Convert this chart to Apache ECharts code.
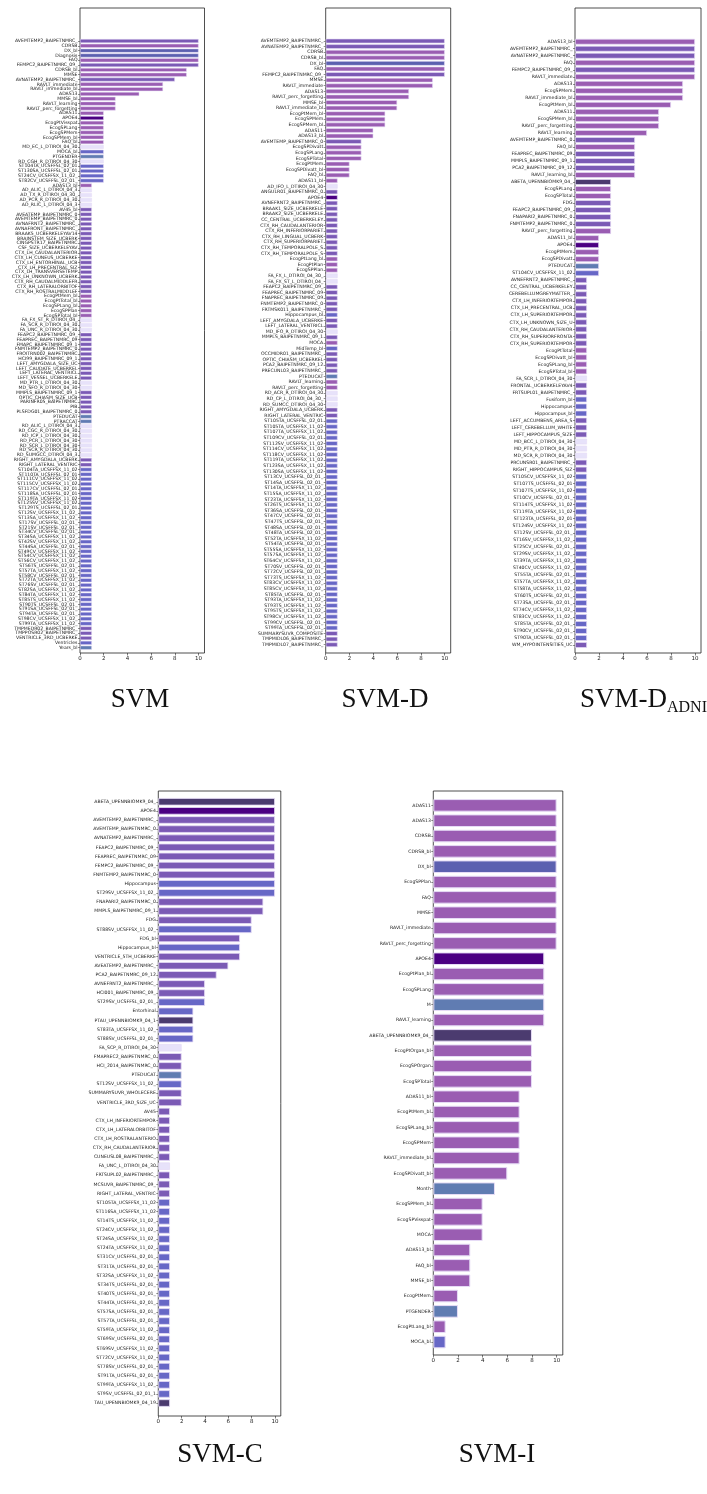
<!DOCTYPE html>
<html><head><meta charset="utf-8">
<script src="https://cdn.jsdelivr.net/npm/echarts@6/dist/echarts.min.js"></script>
<style>html,body{margin:0;padding:0;background:#fff}#c{width:707px;height:1494px}</style>
</head><body><div id="c"></div>
<script>
// ---------------- DATA ----------------
const xTicks = [0, 2, 4, 6, 8, 10];

const svmNames = ["AVEMTEMP2_BAIPETNMRC_","CDRSB","DX_bl","Diagnosis","FAQ","FEMPC2_BAIPETNMRC_09_","CDRSB_bl","MMSE","AVNATEMP2_BAIPETNMRC_","RAVLT_immediate","RAVLT_immediate_bl","ADAS13","MMSE_bl","RAVLT_learning","RAVLT_perc_forgetting",
"ADAS11","APOE4","EcogPtVisspat","EcogSPLang","EcogSPMem","EcogSPMem_bl","FAQ_bl","MD_EC_L_DTIROI_04_30","MOCA_bl","PTGENDER","RD_CGH_R_DTIROI_04_30","ST104TA_UCSFFSL_02_01","ST130SA_UCSFFSL_02_01","ST24CV_UCSFFSX_11_02_","ST82CV_UCSFFSL_02_01_",
"ADAS13_bl","AD_ALIC_L_DTIROI_04_3","AD_TX_R_DTIROI_04_30_","AD_PCR_R_DTIROI_04_30","AD_RLIC_L_DTIROI_04_3","AV45_bl","AVEATEMP_BAIPETNMRC_0","AVEMTEMP_BAIPETNMRC_0","AVNAFRNT2_BAIPETNMRC_","AVNAFRONT_BAIPETNMRC_",
"BRAAK5_UCBERKELEYAV14","BRAINSTEM_SIZE_UCBERK","CINGPSTR17_BAIPETNMRC","CSF_SIZE_UCBERKELEYAV","CTX_LH_CAUDALANTERIOR","CTX_LH_CUNEUS_UCBERKE","CTX_LH_ENTORHINAL_UCB","CTX_LH_PRECENTRAL_SIZ","CTX_LH_TRANSVERSETEMP","CTX_LH_UNKNOWN_UCBERK",
"CTX_RH_CAUDALMIDDLEFR","CTX_RH_LATERALORBITOF","CTX_RH_ROSTRALMIDDLEF","EcogPtMem_bl","EcogPtTotal_bl","EcogSPLang_bl","EcogSPPlan","EcogSPTotal_bl","FA_FX_ST_R_DTIROI_04_","FA_SCR_R_DTIROI_04_30",
"FA_UNC_R_DTIROI_04_30","FEAPC2_BAIPETNMRC_09_","FEAPREC_BAIPETNMRC_09","FMAPC_BAIPETNMRC_09_1","FNMTEMP2_BAIPETNMRC_0","FROITRN002_BAIPETNMRC","HCI99_BAIPETNMRC_09_1","LEFT_AMYGDALA_SIZE_UC","LEFT_CAUDATE_UCBERKEL","LEFT_LATERAL_VENTRICL",
"LEFT_VESSEL_UCBERKELE","MD_PTR_L_DTIROI_04_30","MD_SFO_R_DTIROI_04_30","MMPLS_BAIPETNMRC_09_1","OPTIC_CHIASM_SIZE_UCB","PARINFR05_BAIPETNMRC","PIB","PLSFDG01_BAIPETNMRC_0","PTEDUCAT","PTRACCAT",
"RD_ALIC_L_DTIROI_04_3","RD_CGC_R_DTIROI_04_30","RD_ICP_L_DTIROI_04_30","RD_PCR_L_DTIROI_04_30","RD_SCR_L_DTIROI_04_30","RD_SCR_R_DTIROI_04_30","RD_SUMGCC_DTIROI_04_3","RIGHT_AMYGDALA_UCBERK","RIGHT_LATERAL_VENTRIC","ST104TA_UCSFFSX_11_02",
"ST110TA_UCSFFSL_02_01","ST111CV_UCSFFSX_11_02","ST115CV_UCSFFSX_11_02","ST117CV_UCSFFSL_02_01","ST118SA_UCSFFSL_02_01","ST119TA_UCSFFSX_11_02","ST125SV_UCSFFSX_11_02","ST129TS_UCSFFSL_02_01","ST12SV_UCSFFSX_11_02_","ST13SA_UCSFFSX_11_02_",
"ST17SV_UCSFFSL_02_01_","ST21SV_UCSFFSL_02_01_","ST34CV_UCSFFSL_02_01_","ST34SA_UCSFFSX_11_02_","ST42SV_UCSFFSX_11_02_","ST44SA_UCSFFSL_02_01_","ST49CV_UCSFFSX_11_02_","ST54CV_UCSFFSX_11_02_","ST56CV_UCSFFSX_11_02_","ST56TS_UCSFFSL_02_01_",
"ST57TA_UCSFFSX_11_02_","ST58CV_UCSFFSL_02_01_","ST72TA_UCSFFSX_11_02_","ST76SV_UCSFFSL_02_01_","ST82SA_UCSFFSX_11_02_","ST84TA_UCSFFSX_11_02_","ST85TS_UCSFFSX_11_02_","ST90TS_UCSFFSL_02_01_","ST91SA_UCSFFSL_02_01_","ST94TA_UCSFFSL_02_01_",
"ST98CV_UCSFFSX_11_02_","ST99TA_UCSFFSX_11_02_","TMPMEDR02_BAIPETNMRC_","TMPPOSR02_BAIPETNMRC_","VENTRICLE_3RD_UCBERKE","Ventricles","Years_bl"];
const svmValues = [10,10,10,10,10,10,9,9,8,7,7,5,3,3,3,
2,2,2,2,2,2,2,2,2,2,2,2,2,2,2,
1,1,1,1,1,1,1,1,1,1, 1,1,1,1,1,1,1,1,1,1, 1,1,1,1,1,1,1,1,1,1, 1,1,1,1,1,1,1,1,1,1,
1,1,1,1,1,1,1,1,1,1, 1,1,1,1,1,1,1,1,1,1, 1,1,1,1,1,1,1,1,1,1, 1,1,1,1,1,1,1,1,1,1,
1,1,1,1,1,1,1,1,1,1, 1,1,1,1,1,1,1];

const svmDNames = ["AVEMTEMP2_BAIPETNMRC_","AVNATEMP2_BAIPETNMRC_","CDRSB","CDRSB_bl","DX_bl","FAQ","FEMPC2_BAIPETNMRC_09_","MMSE","RAVLT_immediate","ADAS13",
"RAVLT_perc_forgetting","MMSE_bl","RAVLT_immediate_bl","EcogPtMem_bl","EcogSPMem","EcogSPMem_bl","ADAS11","ADAS13_bl","AVEMTEMP_BAIPETNMRC_0","EcogSPDivatt",
"EcogSPLang","EcogSPTotal","EcogPtMem","EcogSPDivatt_bl","FAQ_bl","ADAS11_bl","AD_IFO_L_DTIROI_04_30","ANGULR01_BAIPETNMRC_0","APOE4","AVNEFRNT2_BAIPETNMRC_",
"BRAAK1_SIZE_UCBERKELE","BRAAK2_SIZE_UCBERKELE","CC_CENTRAL_UCBERKELEY","CTX_RH_CAUDALANTERIOR","CTX_RH_INFERIORPARIET","CTX_RH_LINGUAL_UCBERK","CTX_RH_SUPERIORPARIET","CTX_RH_TEMPORALPOLE_S","CTX_RH_TEMPORALPOLE_S","EcogPtLang_bl",
"EcogPtPlan","EcogSPPlan","FA_FX_L_DTIROI_04_30_","FA_FX_ST_L_DTIROI_04_","FEAPC2_BAIPETNMRC_09_","FEAPREC_BAIPETNMRC_09","FNAPREC_BAIPETNMRC_09","FNMTEMP2_BAIPETNMRC_0","FRTMSK011_BAIPETNMRC_","Hippocampus_bl",
"LEFT_AMYGDALA_UCBERKE","LEFT_LATERAL_VENTRICL","MD_IFO_R_DTIROI_04_30","MMPLS_BAIPETNMRC_09_1","MOCA","MidTemp_bl","OCCMIDR01_BAIPETNMRC_","OPTIC_CHIASM_UCBERKEL","PCA2_BAIPETNMRC_09_12","PRECUNL03_BAIPETNMRC_",
"PTEDUCAT","RAVLT_learning","RAVLT_perc_forgetting","RD_ACR_R_DTIROI_04_30","RD_CP_L_DTIROI_04_30_","RD_SUMCC_DTIROI_04_30","RIGHT_AMYGDALA_UCBERK","RIGHT_LATERAL_VENTRIC","ST105TA_UCSFFSL_02_01","ST105TA_UCSFFSX_11_02",
"ST107TA_UCSFFSX_11_02","ST109CV_UCSFFSL_02_01","ST112SV_UCSFFSX_11_02","ST114CV_UCSFFSX_11_02","ST118CV_UCSFFSX_11_02","ST119TA_UCSFFSX_11_02","ST123SA_UCSFFSX_11_02","ST130SA_UCSFFSX_11_02","ST13CV_UCSFFSL_02_01_","ST14SA_UCSFFSL_02_01_",
"ST14TA_UCSFFSX_11_02_","ST15SA_UCSFFSX_11_02_","ST23TA_UCSFFSX_11_02_","ST26TS_UCSFFSX_11_02_","ST36SA_UCSFFSL_02_01_","ST47CV_UCSFFSL_02_01_","ST47TS_UCSFFSL_02_01_","ST48SA_UCSFFSL_02_01_","ST48TA_UCSFFSL_02_01_","ST52TA_UCSFFSX_11_02_",
"ST54TA_UCSFFSL_02_01_","ST55SA_UCSFFSX_11_02_","ST57SA_UCSFFSX_11_02_","ST64CV_UCSFFSX_11_02_","ST70SV_UCSFFSL_02_01_","ST72CV_UCSFFSL_02_01_","ST73TS_UCSFFSX_11_02_","ST83CV_UCSFFSX_11_02_","ST85CV_UCSFFSX_11_02_","ST85TA_UCSFFSL_02_01_",
"ST93TA_UCSFFSX_11_02_","ST93TS_UCSFFSX_11_02_","ST95TS_UCSFFSX_11_02_","ST98CV_UCSFFSX_11_02_","ST99CV_UCSFFSL_02_01_","ST99TA_UCSFFSL_02_01_","SUMMARYSUVR_COMPOSITE","TMPMIDL06_BAIPETNMRC_","TMPMIDL07_BAIPETNMRC_"];
const svmDValues = [10,10,10,10,10,10,10,9,9,7,
7,6,6,5,5,5,4,4,3,3,
3,3,2,2,2,1,1,1,1,1,
1,1,1,1,1,1,1,1,1,1, 1,1,1,1,1,1,1,1,1,1, 1,1,1,1,1,1,1,1,1,1, 1,1,1,1,1,1,1,1,1,1,
1,1,1,1,1,1,1,1,1,1, 1,1,1,1,1,1,1,1,1,1, 1,1,1,1,1,1,1,1,1,1, 1,1,1,1,1,1,1,1,1];

const svmDadniNames = ["ADAS13_bl","AVEMTEMP2_BAIPETNMRC_","AVNATEMP2_BAIPETNMRC_","FAQ","FEMPC2_BAIPETNMRC_09_","RAVLT_immediate","ADAS13","EcogSPMem","RAVLT_immediate_bl","EcogPtMem_bl",
"ADAS11","EcogSPMem_bl","RAVLT_perc_forgetting","RAVLT_learning","AVEMTEMP_BAIPETNMRC_0","FAQ_bl","FEAPREC_BAIPETNMRC_09","MMPLS_BAIPETNMRC_09_1","PCA2_BAIPETNMRC_09_12","RAVLT_learning_bl",
"ABETA_UPENNBIOMK9_04_","EcogSPLang","EcogSPTotal","FDG","FEAPC2_BAIPETNMRC_09_","FNAPARI2_BAIPETNMRC_0","FNMTEMP2_BAIPETNMRC_0","RAVLT_perc_forgetting","ADAS11_bl","APOE4",
"EcogPtMem","EcogSPDivatt","PTEDUCAT","ST104CV_UCSFFSX_11_02","AVNEFRNT2_BAIPETNMRC_","CC_CENTRAL_UCBERKELEY","CEREBELLUMGREYMATTER_","CTX_LH_INFERIORTEMPOR","CTX_LH_PRECENTRAL_UCB","CTX_LH_SUPERIORTEMPOR",
"CTX_LH_UNKNOWN_SIZE_U","CTX_RH_CAUDALANTERIOR","CTX_RH_SUPERIORFRONTA","CTX_RH_SUPERIORTEMPOR","EcogPtTotal","EcogSPDivatt_bl","EcogSPLang_bl","EcogSPTotal_bl","FA_SCR_L_DTIROI_04_30","FRONTAL_UCBERKELEYAV4",
"FRTSUPL01_BAIPETNMRC_","Fusiform_bl","Hippocampus","Hippocampus_bl","LEFT_ACCUMBENS_AREA_S","LEFT_CEREBELLUM_WHITE","LEFT_HIPPOCAMPUS_SIZE","MD_BCC_L_DTIROI_04_30","MD_PTR_R_DTIROI_04_30","MD_SCR_R_DTIROI_04_30",
"PRCUNSR01_BAIPETNMRC_","RIGHT_HIPPOCAMPUS_SIZ","ST105CV_UCSFFSX_11_02","ST107TS_UCSFFSL_02_01","ST107TS_UCSFFSX_11_02","ST10CV_UCSFFSL_02_01_","ST114TS_UCSFFSX_11_02","ST119TA_UCSFFSX_11_02","ST123TA_UCSFFSL_02_01","ST124SV_UCSFFSX_11_02",
"ST12SV_UCSFFSL_02_01_","ST16SV_UCSFFSX_11_02_","ST25CV_UCSFFSL_02_01_","ST29SV_UCSFFSX_11_02_","ST39TA_UCSFFSX_11_02_","ST40CV_UCSFFSX_11_02_","ST55TA_UCSFFSL_02_01_","ST57TA_UCSFFSX_11_02_","ST58TA_UCSFFSX_11_02_","ST60TS_UCSFFSL_02_01_",
"ST73SA_UCSFFSL_02_01_","ST74CV_UCSFFSX_11_02_","ST83CV_UCSFFSX_11_02_","ST85TA_UCSFFSL_02_01_","ST90CV_UCSFFSL_02_01_","ST90TA_UCSFFSL_02_01_","WM_HYPOINTENSITIES_UC"];
const svmDadniValues = [10,10,10,10,10,10,9,9,9,8,
7,7,7,6,5,5,5,5,5,5,
3,3,3,3,3,3,3,3,2,2,
2,2,2,2,1,1,1,1,1,1, 1,1,1,1,1,1,1,1,1,1, 1,1,1,1,1,1,1,1,1,1, 1,1,1,1,1,1,1,1,1,1,
1,1,1,1,1,1,1,1,1,1, 1,1,1,1,1,1,1];

const svmCNames = ["ABETA_UPENNBIOMK9_04_","APOE4","AVEMTEMP2_BAIPETNMRC_","AVEMTEMP_BAIPETNMRC_0","AVNATEMP2_BAIPETNMRC_","FEAPC2_BAIPETNMRC_09_","FEAPREC_BAIPETNMRC_09","FEMPC2_BAIPETNMRC_09_","FNMTEMP2_BAIPETNMRC_0","Hippocampus",
"ST29SV_UCSFFSX_11_02_","FNAPARI2_BAIPETNMRC_0","MMPLS_BAIPETNMRC_09_1","FDG","ST88SV_UCSFFSX_11_02_","FDG_bl","Hippocampus_bl","VENTRICLE_5TH_UCBERKE","AVEATEMP2_BAIPETNMRC_","PCA2_BAIPETNMRC_09_12",
"AVNEFRNT2_BAIPETNMRC_","HCI001_BAIPETNMRC_09_","ST29SV_UCSFFSL_02_01_","Entorhinal","PTAU_UPENNBIOMK9_04_1","ST83TA_UCSFFSX_11_02_","ST88SV_UCSFFSL_02_01_","FA_SCP_R_DTIROI_04_30","FMAPREC2_BAIPETNMRC_0","HCI_2014_BAIPETNMRC_0",
"PTEDUCAT","ST12SV_UCSFFSX_11_02_","SUMMARYSUVR_WHOLECERE","VENTRICLE_3RD_SIZE_UC","AV45","CTX_LH_INFERIORTEMPOR","CTX_LH_LATERALORBITOF","CTX_LH_ROSTRALANTERIO","CTX_RH_CAUDALANTERIOR","CUNEUSL08_BAIPETNMRC_",
"FA_UNC_L_DTIROI_04_30","FRTSUPL02_BAIPETNMRC_","MCSUVR_BAIPETNMRC_09_","RIGHT_LATERAL_VENTRIC","ST105TA_UCSFFSX_11_02","ST116SA_UCSFFSX_11_02","ST14TS_UCSFFSX_11_02_","ST24CV_UCSFFSX_11_02_","ST24SA_UCSFFSX_11_02_","ST24TA_UCSFFSX_11_02_",
"ST31CV_UCSFFSL_02_01_","ST31TA_UCSFFSL_02_01_","ST32SA_UCSFFSX_11_02_","ST34TS_UCSFFSL_02_01_","ST40TS_UCSFFSL_02_01_","ST44TA_UCSFFSL_02_01_","ST57SA_UCSFFSL_02_01_","ST57TA_UCSFFSL_02_01_","ST59TA_UCSFFSX_11_02_","ST69SV_UCSFFSL_02_01_",
"ST69SV_UCSFFSX_11_02_","ST72CV_UCSFFSX_11_02_","ST78SV_UCSFFSL_02_01_","ST91TA_UCSFFSL_02_01_","ST99TA_UCSFFSX_11_02_","ST9SV_UCSFFSL_02_01_1","TAU_UPENNBIOMK9_04_19"];
const svmCValues = [10,10,10,10,10,10,10,10,10,10,
10,9,9,8,8,7,7,7,6,5,
4,4,4,3,3,3,3,2,2,2,
2,2,2,2,1,1,1,1,1,1, 1,1,1,1,1,1,1,1,1,1, 1,1,1,1,1,1,1,1,1,1, 1,1,1,1,1,1,1];

const svmINames = ["ADAS11","ADAS13","CDRSB","CDRSB_bl","DX_bl","EcogSPPlan","FAQ","MMSE","RAVLT_immediate","RAVLT_perc_forgetting",
"APOE4","EcogPtPlan_bl","EcogSPLang","M","RAVLT_learning","ABETA_UPENNBIOMK9_04_","EcogPtOrgan_bl","EcogSPOrgan","EcogSPTotal","ADAS11_bl",
"EcogPtMem_bl","EcogSPLang_bl","EcogSPMem","RAVLT_immediate_bl","EcogSPDivatt_bl","Month","EcogSPMem_bl","EcogSPVisspat","MOCA","ADAS13_bl",
"FAQ_bl","MMSE_bl","EcogPtMem","PTGENDER","EcogPtLang_bl","MOCA_bl"];
const svmIValues = [10,10,10,10,10,10,10,10,10,10,
9,9,9,9,9,8,8,8,8,7,
7,7,7,7,6,5,4,4,4,3,
3,3,2,2,1,1];

// ---------------- STYLE ----------------
const C = {
  cog: '#9a5db2', pet: '#7b5ab5', mri: '#6767c6', dx: '#5c60b0',
  demo: '#607cb2', apoe: '#4b0082', csf: '#4b3b6f', dti: '#e7e2fa'
};
function colorOf(n) {
  if (n === 'APOE4') return C.apoe;
  if (/UPENNBIOMK/.test(n)) return C.csf;
  if (/^(PTGENDER|PTEDUCAT|PTRACCAT|M|Month|Years_bl)$/.test(n)) return C.demo;
  if (/^(DX_bl|Diagnosis)$/.test(n)) return C.dx;
  if (/^(FA|MD|RD|AD)_.*DTIROI/.test(n)) return C.dti;
  if (/^ST\d+/.test(n) || /^(Hippocampus|Ventricles|Entorhinal|Fusiform|MidTemp)/.test(n) || n === 'MOCA_bl') return C.mri;
  if (/^(ADAS|CDRSB|MMSE|RAVLT|Ecog|FAQ|MOCA)/.test(n)) return C.cog;
  return C.pet;
}

const FONT = '"DejaVu Sans", sans-serif';
const panels = [
  {names: svmNames, values: svmValues, left: 80, width: 124.5, fTop: 8, fBot: 653, rTop: 38.6, rBot: 650.1, fs: 4.6, bw: 0.5},
  {names: svmDNames, values: svmDValues, left: 325.7, width: 125, fTop: 8, fBot: 653, rTop: 38.2, rBot: 647.5, fs: 4.6, bw: 0.6},
  {names: svmDadniNames, values: svmDadniValues, left: 575, width: 126, fTop: 8, fBot: 653, rTop: 38.2, rBot: 648.5, fs: 4.6, bw: 0.7},
  {names: svmCNames, values: svmCValues, left: 158.3, width: 122.5, fTop: 791, fBot: 1416, rTop: 797.2, rBot: 1407.6, fs: 4.6, bw: 0.8},
  {names: svmINames, values: svmIValues, left: 433.3, width: 129.5, fTop: 791, fBot: 1355, rTop: 797.7, rBot: 1349.7, fs: 4.6, bw: 1}
];

const grid = [], xAxis = [], yAxis = [], series = [];
panels.forEach((p, i) => {
  grid.push({left: p.left, width: p.width, top: p.fTop, height: p.fBot - p.fTop,
    show: true, borderColor: '#222', borderWidth: 0.8, backgroundColor: 'transparent'});
  grid.push({left: p.left, width: p.width, top: p.rTop, height: p.rBot - p.rTop});
  xAxis.push({gridIndex: 2 * i, type: 'value', min: 0, max: 10.5, interval: 2,
    axisLine: {show: false}, splitLine: {show: false},
    axisTick: {show: true, length: 2.5, lineStyle: {color: '#222', width: 0.6},
      customValues: xTicks},
    axisLabel: {fontSize: 5.5, color: '#222', margin: 3, fontFamily: FONT,
      customValues: xTicks, formatter: v => (xTicks.indexOf(v) >= 0 ? String(v) : '')}});
  xAxis.push({gridIndex: 2 * i + 1, type: 'value', min: 0, max: 10.5, show: false});
  yAxis.push({gridIndex: 2 * i, type: 'value', min: 0, max: 1, show: false});
  yAxis.push({gridIndex: 2 * i + 1, type: 'category', inverse: true, data: p.names,
    axisLine: {show: false},
    axisTick: {show: true, interval: 0, alignWithLabel: true, length: 2, lineStyle: {color: '#222', width: 0.5}},
    axisLabel: {interval: 0, fontSize: p.fs, color: '#222', margin: 2.5, fontFamily: FONT}});
  series.push({type: 'bar', xAxisIndex: 2 * i + 1, yAxisIndex: 2 * i + 1,
    barCategoryGap: '18%', silent: true, animation: false,
    data: p.values.map((v, k) => ({value: v, itemStyle: {color: colorOf(p.names[k]),
      borderColor: '#e6dcf6', borderWidth: p.bw}}))});
});

const TF = '"Liberation Serif", "DejaVu Serif", serif';
const graphic = [
  {type: 'text', x: 140, y: 700, style: {text: 'SVM', font: '27px ' + TF, textAlign: 'center', textVerticalAlign: 'middle', fill: '#111'}},
  {type: 'text', x: 385, y: 700, style: {text: 'SVM-D', font: '27px ' + TF, textAlign: 'center', textVerticalAlign: 'middle', fill: '#111'}},
  {type: 'text', x: 580, y: 700, style: {text: 'SVM-D', font: '27px ' + TF, textAlign: 'left', textVerticalAlign: 'middle', fill: '#111'}},
  {type: 'text', x: 667, y: 708, style: {text: 'ADNI', font: '16px ' + TF, textAlign: 'left', textVerticalAlign: 'middle', fill: '#111'}},
  {type: 'text', x: 220, y: 1455, style: {text: 'SVM-C', font: '27px ' + TF, textAlign: 'center', textVerticalAlign: 'middle', fill: '#111'}},
  {type: 'text', x: 497, y: 1455, style: {text: 'SVM-I', font: '27px ' + TF, textAlign: 'center', textVerticalAlign: 'middle', fill: '#111'}}
];

const chart = echarts.init(document.getElementById('c'), null, {renderer: 'canvas'});
chart.setOption({animation: false, backgroundColor: '#fff', grid, xAxis, yAxis, series, graphic});
</script></body></html>
